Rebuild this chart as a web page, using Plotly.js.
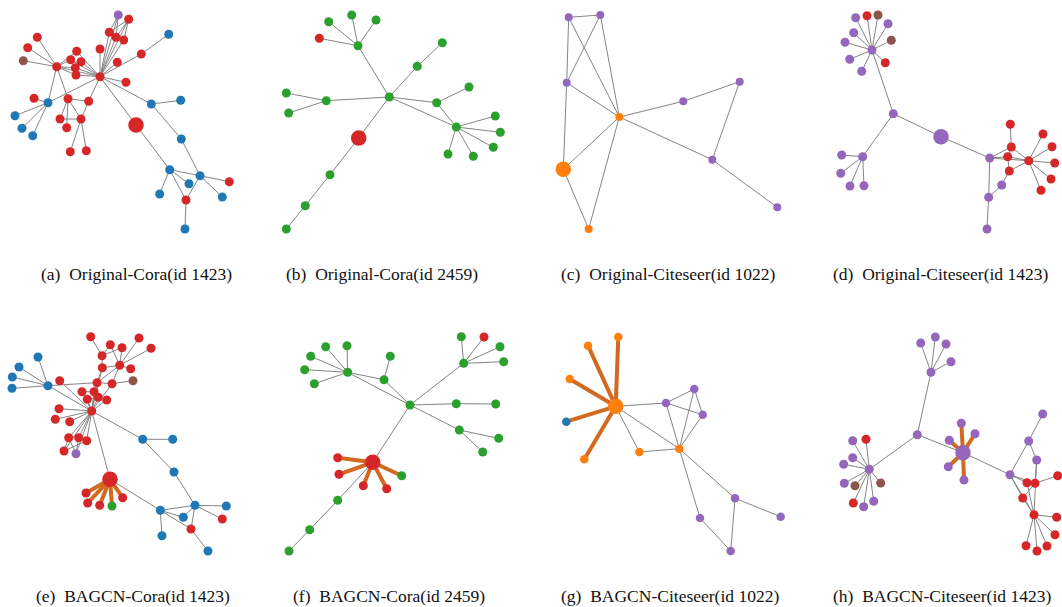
<!DOCTYPE html>
<html>
<head>
<meta charset="utf-8">
<script src="https://cdn.plot.ly/plotly-3.0.1.min.js"></script>
<style>
  html, body { margin: 0; padding: 0; background: #ffffff; }
  #graph { width: 1062px; height: 607px; }
</style>
</head>
<body>
<div id="graph"></div>
<script>
// ---- Node classes (one letter per node) and their colours ----
// b = blue, o = orange, g = green, r = red, p = purple, n = brown
const classColors = { b: '#1f77b4', o: '#ff7f0e', g: '#2ca02c', r: '#d62728', p: '#9467bd', n: '#8c564b' };

// ---- (a) Original-Cora (id 1423) ----
const aX = [118.3,128.7,109.3,116,123.7,168.7,37.3,27.7,23.3,56.7,76.7,70.7,81,75.3,76,100,141.3,117.3,100,126,34,48,68,88.7,15,60,81,22,66.7,32.7,70.3,86.3,136,151.3,180.7,181.3,169.7,200,189,229.3,159.7,186,222.3,185];
const aY = [15,19.3,32.3,37.3,40,34.3,37.3,47.7,60.7,66.7,51.3,59.7,61.7,67.7,75,49,54,62.3,76.7,82.3,98.3,102.7,98.7,101.3,115.7,119,119,128.3,127.7,135.7,151.7,150.7,125,104,100.3,139,169.7,175.7,183.7,181.7,194,200,197,229];
const aClass = 'prrrrbrrnr' + 'rrrrrrrrrr' + 'rbrrbrrbrb' + 'rrrbbbbbbr' + 'brbb';
const aTarget = 33;
const aEdges = [[19,1],[19,2],[19,3],[19,4],[19,5],[2,3],[2,4],[2,5],[1,4],[1,3],[19,17],[17,6],[19,16],[19,18],[19,20],
  [10,7],[10,8],[10,9],[10,19],[10,11],[10,12],[10,14],[10,15],[19,11],[19,12],[19,13],[19,14],[19,15],
  [10,22],[10,23],[19,22],[19,24],[22,21],[22,25],[22,28],[22,30],[23,24],[23,26],[23,27],[23,29],[26,27],[24,27],[27,31],[27,32],
  [19,33],[33,37],[19,34],[34,35],[34,36],[36,38],[37,38],[37,39],[37,41],[37,42],[38,42],[38,40],[38,43],[42,44]];
const aThick = [];

// ---- (b) Original-Cora (id 2459) ----
const bX = [63.7,86.7,111,54.3,93,177.3,152.3,21.3,23.7,61.3,124.3,204,171.7,191.3,230.3,235.3,228.3,183,208.3,93.7,65,40.3,21.3];
const bY = [21.7,15,20,38.3,45.7,42.7,66.3,93,113,100.7,97,87,102.7,127,116,132.3,147.3,154,156.3,138,174.7,205.7,229];
const bClass = 'ggg' + 'r' + 'ggggggggggggggg' + 'r' + 'ggg';
const bTarget = 20;
const bEdges = [[5,1],[5,2],[5,3],[5,4],[11,5],[11,7],[7,6],[11,10],[10,8],[10,9],[11,13],[13,12],[13,14],[11,14],
  [14,15],[14,16],[14,17],[14,18],[14,19],[11,20],[20,21],[21,22],[22,23]];
const bThick = [];

// ---- (c) Original-Citeseer (id 1022) ----
const cX = [28.7,60.3,26.7,79.3,143.3,199.7,172.3,237.3,23.3,48.7];
const cY = [17.3,15,82.7,117,101.3,81.7,159.7,207.3,169.3,229];
const cClass = 'pppoppppoo';
const cTarget = 9;
const cEdges = [[1,2],[1,3],[2,3],[1,4],[2,4],[3,4],[3,9],[4,9],[4,10],[9,10],[4,5],[5,6],[6,7],[4,7],[7,8]];
const cThick = [];

// ---- (d) Original-Citeseer (id 1423) ----
const dX = [43.7,55,66,76,41.7,79.3,33,60,37.7,73.3,49.7,81.3,129,50.7,29.7,28.7,38,52,198.3,231,199.3,240,177.7,195.7,216.7,242.7,197.3,239,189.7,229,176.7,175];
const dY = [17.7,15.7,15,23.7,32.7,40.3,42.3,50,59.3,62.7,71.3,113.7,136.7,156.7,155,173.3,186,185.7,124.3,134,147,146.7,158,156.7,160.7,163,171,179,185,190.3,197.3,229];
const dClass = 'prnppnpppr' + 'pppppppprr' + 'rrprrrrrpr' + 'pp';
const dTarget = 13;
const dEdges = [[8,1],[8,2],[8,3],[8,4],[8,5],[8,6],[8,7],[8,9],[8,10],[8,11],[8,12],[12,14],[14,15],[14,16],[14,17],[14,18],
  [12,13],[13,23],[23,24],[23,21],[23,25],[23,31],[19,21],[21,24],[24,25],[21,25],[27,25],[27,24],[29,27],[29,31],[31,32],
  [25,20],[25,22],[25,26],[25,28],[25,30]];
const dThick = [];

// ---- (e) BAGCN-Cora (id 1423) ----
const eX = [90.7,139,110.3,122,151,102,38,102.3,119.7,130.7,19,12.3,59.7,97,112,133,48,12,82,94,87.3,98.3,106.7,59,91.7,55.3,69.7,68.7,78.7,86.7,64,76,142.7,172.7,174,110,86,87.7,99.7,112,122.7,160.3,195,226.3,183.3,222.3,191,162,208];
const eY = [16.7,18,24.7,27.7,28.3,35.7,37,47.7,45.3,48.7,47,57,60.7,62.7,63.7,60.7,65.7,68.3,71.7,71.7,79.3,77.3,80,88.7,91,99.3,101.7,117.7,117.7,120.7,131,133.7,119.3,119.3,152,159.3,173,183,185.3,186,177.7,190.3,185.3,186,197.3,199,209,215.7,231];
const eClass = 'rrrrrrbrrr' + 'bbrrrnbbrr' + 'rrrrrrrrrr' + 'rpbbbrrrrg' + 'rbbbbrrbb';
const eTarget = 36;
const eEdges = [[6,1],[6,3],[6,4],[9,3],[9,4],[9,2],[9,5],[9,8],[8,6],[8,14],[9,14],[10,9],[15,9],[14,15],[15,16],
  [17,7],[17,11],[17,12],[17,18],[17,14],[17,25],[13,25],
  [25,19],[25,20],[25,21],[25,22],[25,23],[25,14],[25,15],[25,8],[25,24],[25,26],[25,27],[25,28],[25,29],[25,30],[25,31],[25,32],
  [19,20],[21,22],[28,31],[29,32],[30,31],[28,32],
  [25,36],[25,33],[33,34],[33,35],[35,43],[36,42],[42,43],[42,45],[42,47],[42,48],[43,44],[43,46],[43,47],[43,45],[47,49]];
const eThick = [[36,37],[36,38],[36,39],[36,40],[36,41]];

// ---- (f) BAGCN-Cora (id 2459) ----
const fX = [191.3,214,77,55.7,230,40.7,120.3,233.7,193.7,34.7,77.7,114,44.3,140,186.3,225.7,189.3,228.7,212.7,102.7,67.7,69,131.7,93.3,116.7,67.7,39.7,19];
const fY = [16.7,17,25.7,26.7,26.7,36.3,36.3,41.7,43.3,49.7,52.3,59.7,63.7,85,83.7,84,110,118.3,132,142.3,137.7,154.3,155.7,165.7,168.7,180.3,209.7,231];
const fClass = 'grggggggggggggggggg' + 'rrrgrrggg';
const fTarget = 20;
const fEdges = [[9,1],[9,2],[9,5],[9,8],[14,9],[11,3],[11,4],[11,6],[11,10],[11,13],[11,12],[12,7],[11,14],[12,14],
  [14,15],[15,16],[14,17],[17,18],[17,19],[14,20],[20,26],[26,27],[27,28]];
const fThick = [[20,21],[20,22],[20,23],[20,24],[20,25]];

// ---- (g) BAGCN-Citeseer (id 1022) ----
const gX = [78.3,48,29.7,75.7,26.3,44.3,99.3,126,154.3,162.7,139.3,195,240.7,160,190.7];
const gY = [17,25.7,59,86.3,101.7,139.3,132,83,69,94.7,128.7,178.3,196.7,198,231];
const gClass = 'ooooboopppopppp';
const gTarget = 4;
const gEdges = [[4,8],[4,7],[4,11],[7,11],[8,9],[8,10],[9,10],[8,11],[9,11],[10,11],[11,12],[11,14],[12,13],[12,15],[14,15]];
const gThick = [[4,1],[4,2],[4,3],[4,5],[4,6]];

// ---- (h) BAGCN-Citeseer (id 1423) ----
const hX = [123.3,108.7,134,139,119,230.7,149.3,163,105.3,137.3,54,40.7,216.7,151,40.7,224.7,31.7,136.3,57.3,198,245.7,152,68.7,32.3,215,223,43,210.7,61.7,41.3,51.7,222,244.7,243,214,235,225];
const hY = [17,23,24,41.7,52.3,94,103.3,113.7,114.7,120.3,119.3,120.7,121,132.7,137.7,140,144.3,146.7,149.3,154.7,155.7,160,163,163.3,162.7,163.3,165.7,178,181.3,183,186.7,194.7,197.3,214.7,225.7,226,231];
const hClass = 'pppppppppp' + 'rppppppppp' + 'rpnprrnrpr' + 'prrrrrr';
const hTarget = 14;
const hEdges = [[5,1],[5,2],[5,3],[5,4],[9,5],[9,19],[19,11],[19,12],[19,15],[19,17],[19,23],[19,24],[19,27],[19,29],[19,30],[19,31],
  [9,14],[14,20],[20,13],[13,6],[13,16],[16,26],[20,25],[20,26],[20,28],[20,32],[26,21],[28,26],[16,32],[25,32],[28,32],
  [32,33],[32,34],[32,35],[32,36],[32,37]];
const hThick = [[14,7],[14,8],[14,10],[14,18],[14,22]];

// ---- Sub-figure captions ----
const captions = [
  '(a)\u2002Original-Cora(id 1423)', '(b)\u2002Original-Cora(id 2459)',
  '(c)\u2002Original-Citeseer(id 1022)', '(d)\u2002Original-Citeseer(id 1423)',
  '(e)\u2002BAGCN-Cora(id 1423)', '(f)\u2002BAGCN-Cora(id 2459)',
  '(g)\u2002BAGCN-Citeseer(id 1022)', '(h)\u2002BAGCN-Citeseer(id 1423)'
];

// ---- Panel frames in page pixels (left, top, width, height) and node sizes ----
const W = 1062, H = 607;
const panelBoxes = [
  [0, 0, 250, 240], [265, 0, 250, 240], [540, 0, 250, 240], [812, 0, 250, 240],
  [0, 320, 250, 250], [270, 320, 250, 250], [540, 320, 250, 250], [812, 320, 250, 250]
];
const nodeSizes = [9, 9, 8, 9, 9, 9, 8.5, 9];
const targetSize = 15.5;
const captionCenters = [[136, 274], [382, 274], [668, 274], [940, 274], [133, 596], [389, 596], [670, 596], [942, 596]];

const panels = [
  [aX, aY, aClass, aTarget, aEdges, aThick],
  [bX, bY, bClass, bTarget, bEdges, bThick],
  [cX, cY, cClass, cTarget, cEdges, cThick],
  [dX, dY, dClass, dTarget, dEdges, dThick],
  [eX, eY, eClass, eTarget, eEdges, eThick],
  [fX, fY, fClass, fTarget, fEdges, fThick],
  [gX, gY, gClass, gTarget, gEdges, gThick],
  [hX, hY, hClass, hTarget, hEdges, hThick]
];

function edgePath(xs, ys, edges) {
  const ex = [], ey = [];
  edges.forEach(([s, t]) => {
    ex.push(xs[s - 1], xs[t - 1], null);
    ey.push(ys[s - 1], ys[t - 1], null);
  });
  return { ex, ey };
}

const traces = [];
const layout = {
  width: W, height: H,
  margin: { l: 0, r: 0, t: 0, b: 0 },
  paper_bgcolor: '#ffffff', plot_bgcolor: 'rgba(0,0,0,0)',
  showlegend: false,
  annotations: []
};

panels.forEach(([xs, ys, cls, target, edges, thick], i) => {
  const k = i === 0 ? '' : String(i + 1);
  const [left, top, w, h] = panelBoxes[i];
  layout['xaxis' + k] = {
    domain: [left / W, (left + w) / W], range: [0, w],
    visible: false, fixedrange: true, anchor: 'y' + k
  };
  layout['yaxis' + k] = {
    domain: [1 - (top + h) / H, 1 - top / H], range: [h, 0],
    visible: false, fixedrange: true, anchor: 'x' + k
  };

  const thin = edgePath(xs, ys, edges);
  traces.push({
    type: 'scatter', mode: 'lines', x: thin.ex, y: thin.ey, xaxis: 'x' + k, yaxis: 'y' + k,
    line: { color: '#858585', width: 1 }, hoverinfo: 'skip', cliponaxis: false
  });
  if (thick.length) {
    const bold = edgePath(xs, ys, thick);
    traces.push({
      type: 'scatter', mode: 'lines', x: bold.ex, y: bold.ey, xaxis: 'x' + k, yaxis: 'y' + k,
      line: { color: '#d2691e', width: 4 }, hoverinfo: 'skip', cliponaxis: false
    });
  }
  const colors = Array.from(cls).map(c => classColors[c]);
  const sizes = xs.map((_, j) => (j === target - 1 ? targetSize : nodeSizes[i]));
  traces.push({
    type: 'scatter', mode: 'markers', x: xs, y: ys, xaxis: 'x' + k, yaxis: 'y' + k,
    marker: { color: colors, size: sizes, line: { width: 0 }, opacity: 1 },
    hoverinfo: 'skip', cliponaxis: false
  });

  const [cx, cy] = captionCenters[i];
  layout.annotations.push({
    text: captions[i], xref: 'paper', yref: 'paper',
    x: cx / W, y: 1 - cy / H, xanchor: 'center', yanchor: 'middle',
    showarrow: false,
    font: { family: 'Liberation Serif, DejaVu Serif, serif', size: 17.5, color: '#111111' }
  });
});

Plotly.newPlot('graph', traces, layout, { staticPlot: true, displayModeBar: false });
</script>
</body>
</html>
